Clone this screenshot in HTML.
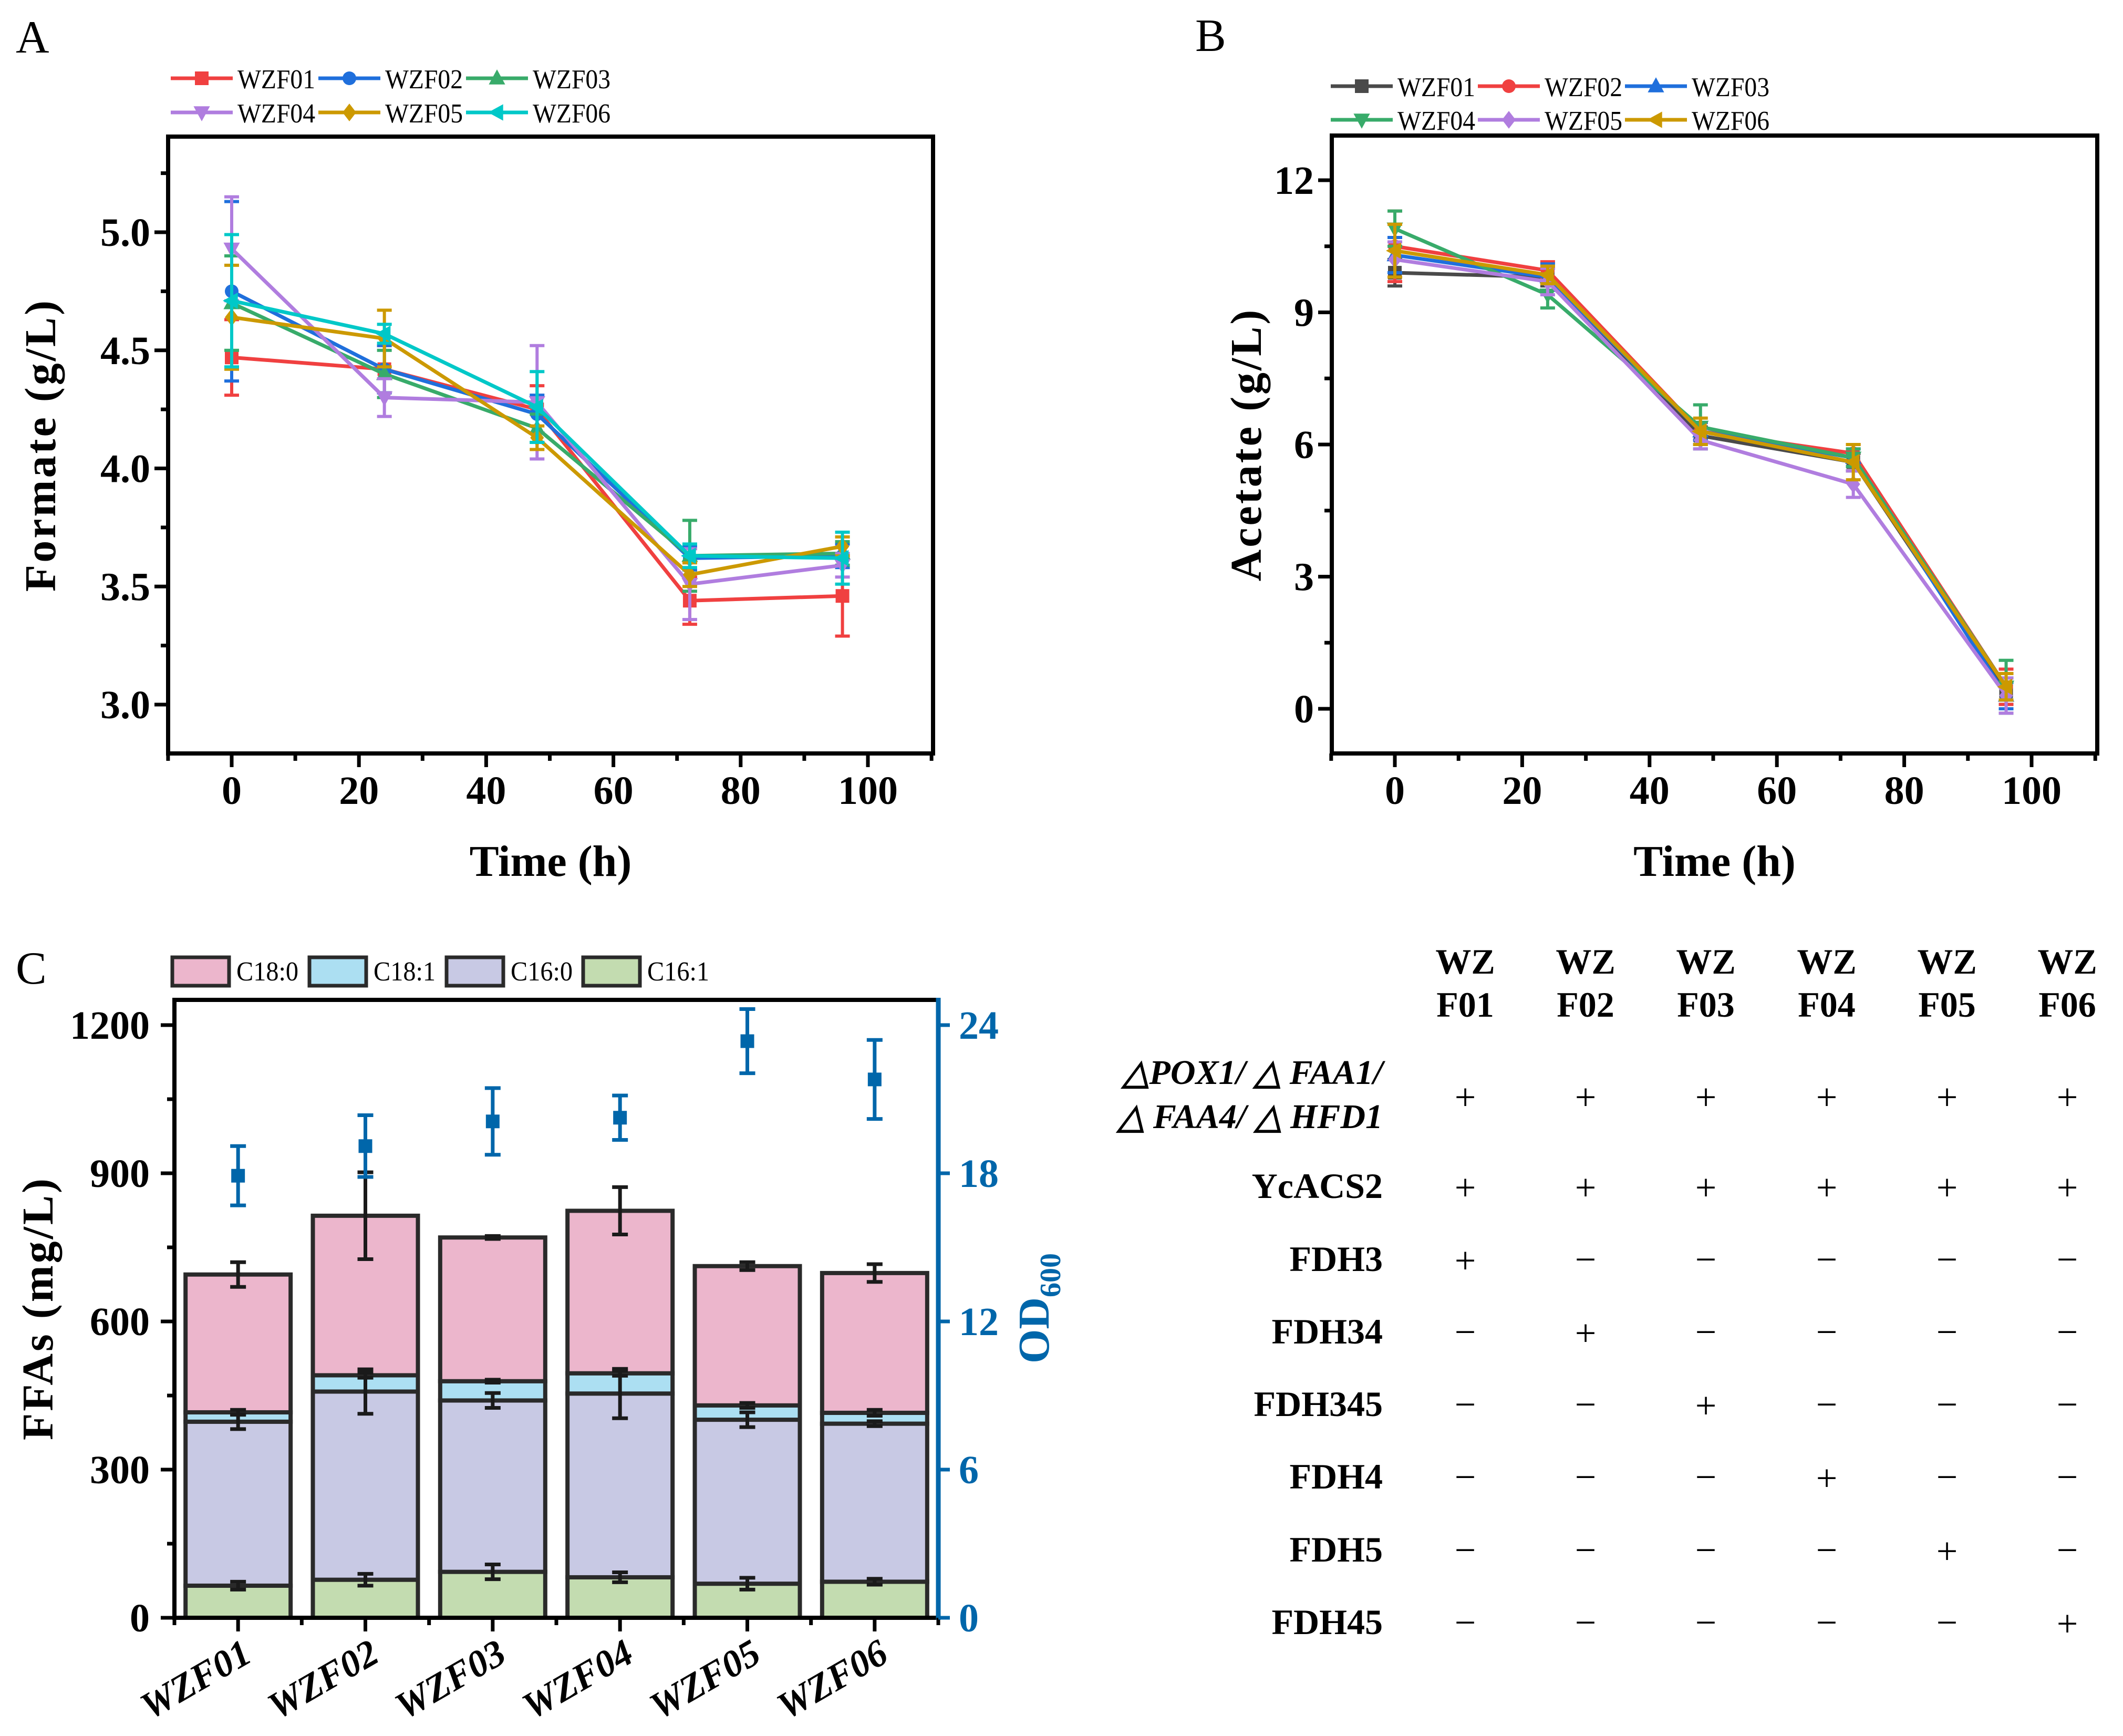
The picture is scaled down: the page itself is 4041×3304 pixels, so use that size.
<!DOCTYPE html>
<html><head><meta charset="utf-8"><style>html,body{margin:0;padding:0;background:#fff}svg{display:block}</style></head>
<body>
<svg id="fig" xmlns="http://www.w3.org/2000/svg" width="4041" height="3304" viewBox="0 0 4041 3304" font-family="Liberation Serif, serif">
<rect width="4041" height="3304" fill="#fff"/>
<g id="pA"></g>
<g id="pB"></g>
<g id="pC"></g>
<g id="pT"></g>
</svg>
<script>
// ---------- data ----------
const times = [0, 24, 48, 72, 96];
const strainNames = ["WZF01","WZF02","WZF03","WZF04","WZF05","WZF06"];
const formateTicks = ["3.0","3.5","4.0","4.5","5.0"];
const formate01 = [4.47, 4.42, 4.25, 3.44, 3.46];
const formate02 = [4.75, 4.42, 4.23, 3.62, 3.63];
const formate03 = [4.70, 4.40, 4.17, 3.63, 3.64];
const formate04 = [4.93, 4.30, 4.28, 3.51, 3.59];
const formate05 = [4.64, 4.55, 4.13, 3.55, 3.67];
const formate06 = [4.71, 4.57, 4.26, 3.63, 3.62];
const formateErr01 = [0.16, 0.10, 0.10, 0.10, 0.17];
const formateErr02 = [0.38, 0.10, 0.08, 0.05, 0.05];
const formateErr03 = [0.20, 0.10, 0.06, 0.15, 0.05];
const formateErr04 = [0.22, 0.08, 0.24, 0.15, 0.05];
const formateErr05 = [0.22, 0.12, 0.05, 0.05, 0.04];
const formateErr06 = [0.28, 0.04, 0.15, 0.05, 0.11];
const acetateTicks = ["0","3","6","9","12"];
const acetate01 = [9.9, 9.8, 6.2, 5.6, 0.4];
const acetate02 = [10.5, 9.95, 6.3, 5.8, 0.5];
const acetate03 = [10.3, 9.8, 6.3, 5.7, 0.3];
const acetate04 = [10.9, 9.4, 6.4, 5.7, 0.5];
const acetate05 = [10.2, 9.7, 6.1, 5.1, 0.3];
const acetate06 = [10.4, 9.85, 6.3, 5.6, 0.5];
const acetateErr01 = [0.3, 0.2, 0.2, 0.2, 0.3];
const acetateErr02 = [0.8, 0.2, 0.2, 0.2, 0.4];
const acetateErr03 = [0.4, 0.3, 0.2, 0.2, 0.3];
const acetateErr04 = [0.4, 0.3, 0.5, 0.2, 0.6];
const acetateErr05 = [0.4, 0.3, 0.2, 0.3, 0.4];
const acetateErr06 = [0.6, 0.2, 0.3, 0.4, 0.3];
const c161 = [65, 77, 93, 82, 69, 73];
const c160 = [332, 381, 347, 372, 332, 320];
const c181 = [19, 33, 39, 41, 29, 22];
const c180 = [279, 323, 291, 329, 282, 283];
const c161Err = [8, 12, 15, 10, 12, 6];
const c160Err = [15, 45, 15, 50, 15, 5];
const c181Err = [5, 5, 3, 5, 5, 6];
const c180Err = [25, 88, 3, 48, 8, 18];
const od600 = [17.9, 19.1, 20.1, 20.25, 23.35, 21.8];
const od600Err = [1.2, 1.25, 1.35, 0.9, 1.3, 1.6];
const ffaTicks = ["0","300","600","900","1200"];
const odTicks = ["0","6","12","18","24"];
const rowLabels = ["YcACS2","FDH3","FDH34","FDH345","FDH4","FDH5","FDH45"];
const rowMarks = [
 "++++++",
 "+-----",
 "-+----",
 "--+---",
 "---+--",
 "----+-",
 "-----+"];

const NS="http://www.w3.org/2000/svg";
function mk(parent, tag, attrs, text){
  const e=document.createElementNS(NS,tag);
  for(const k in attrs) e.setAttribute(k,attrs[k]);
  if(text!==undefined) e.textContent=text;
  parent.appendChild(e); return e;
}
function lin(d0,d1,r0,r1){return v=>r0+(v-d0)*(r1-r0)/(d1-d0);}

function marker(g, shape, x, y, s, col){
  let e;
  if(shape==="sq") e=mk(g,"rect",{x:x-s/2,y:y-s/2,width:s,height:s,fill:col});
  else if(shape==="ci") e=mk(g,"circle",{cx:x,cy:y,r:s/2,fill:col});
  else if(shape==="tu") e=mk(g,"polygon",{points:`${x},${y-s*0.65} ${x-s*0.6},${y+s*0.45} ${x+s*0.6},${y+s*0.45}`,fill:col});
  else if(shape==="td") e=mk(g,"polygon",{points:`${x},${y+s*0.65} ${x-s*0.6},${y-s*0.45} ${x+s*0.6},${y-s*0.45}`,fill:col});
  else if(shape==="di") e=mk(g,"polygon",{points:`${x},${y-s*0.65} ${x+s*0.5},${y} ${x},${y+s*0.65} ${x-s*0.5},${y}`,fill:col});
  else e=mk(g,"polygon",{points:`${x-s*0.65},${y} ${x+s*0.45},${y-s*0.6} ${x+s*0.45},${y+s*0.6}`,fill:col});
  return e;
}

function linePanel(g, cfg){
  const X=lin(0,100,cfg.x0,cfg.x100), Y=lin(cfg.ylo,cfg.yhi,cfg.ylopx,cfg.yhipx);
  const L=cfg.box[0],T=cfg.box[1],R=cfg.box[2],B=cfg.box[3];
  cfg.series.forEach((s,i)=>{
    const sg=mk(g,"g",{});
    
    
    const pts=times.map((t,j)=>X(t)+","+Y(s[j])).join(" ");
    mk(sg,"polyline",{points:pts,fill:"none",stroke:cfg.colors[i],"stroke-width":7});
    times.forEach((t,j)=>{
      const x=X(t),e=cfg.errs[i][j];
      const eb=mk(sg,"path",{d:`M${x},${Y(s[j]-e)}V${Y(s[j]+e)}M${x-14},${Y(s[j]-e)}h28M${x-14},${Y(s[j]+e)}h28`,stroke:cfg.colors[i],"stroke-width":6,fill:"none"});
      
      
      const m=marker(sg,cfg.shapes[i],x,Y(s[j]),26,cfg.colors[i]);
      
      
    });
  });
  const fr=mk(g,"rect",{x:L,y:T,width:R-L,height:B-T,fill:"none",stroke:"#000","stroke-width":8});
  
  
  for(let t=-10;t<=110;t+=10){
    const x=X(t); const major=t%20===0;
    mk(g,"line",{x1:x,y1:B,x2:x,y2:B+(major?26:14),stroke:"#000","stroke-width":7});
    if(major && t>=0 && t<=100){
      const tl=mk(g,"text",{x:x,y:1530,"text-anchor":"middle","font-size":76,"font-weight":"bold"},String(t));
      
      
    }
  }
  cfg.yTicks.forEach((lab,k)=>{
    const v=parseFloat(lab), y=Y(v);
    mk(g,"line",{x1:L,y1:y,x2:L-26,y2:y,stroke:"#000","stroke-width":7});
    const yl=mk(g,"text",{x:L-34,y:y+26,"text-anchor":"end","font-size":76,"font-weight":"bold"},lab);
    
    
  });
  cfg.minor.forEach(v=>{const y=Y(v); if(y>T && y<B) mk(g,"line",{x1:L,y1:y,x2:L-14,y2:y,stroke:"#000","stroke-width":7});});
  const xt=mk(g,"text",{x:(L+R)/2,y:1667,"text-anchor":"middle","font-size":84,"font-weight":"bold"},"Time (h)");
  
  
  const yt=mk(g,"text",{x:0,y:0,transform:`translate(${cfg.ylabX},${(T+B)/2}) rotate(-90)`,"text-anchor":"middle","font-size":84,"font-weight":"bold","letter-spacing":4},cfg.ylab);
  
  
  const pl=mk(g,"text",{x:cfg.letter[0],y:cfg.letter[1],"font-size":88},cfg.letter[2]);
  
  
  const lg=mk(g,"g",{});
  
  
  strainNames.forEach((n,i)=>{
    const row=Math.floor(i/3),col=i%3;
    const lx=cfg.leg[0]+col*cfg.legStep, ly=cfg.leg[1]+row*cfg.legRow;
    const le=mk(lg,"g",{});
    
    
    mk(le,"line",{x1:lx,y1:ly,x2:lx+118,y2:ly,stroke:cfg.colors[i],"stroke-width":7});
    marker(le,cfg.shapes[i],lx+59,ly,26,cfg.colors[i]);
    mk(le,"text",{x:lx+127,y:ly+19,"font-size":52,textLength:148,lengthAdjust:"spacingAndGlyphs"},n);
  });
}

const shapes=["sq","ci","tu","td","di","tl"];
linePanel(document.getElementById("pA"),{
  box:[320,260,1776,1434], x0:441,x100:1652, ylo:3.0,yhi:5.0,ylopx:1341,yhipx:442,
  series:[formate01,formate02,formate03,formate04,formate05,formate06],
  errs:[formateErr01,formateErr02,formateErr03,formateErr04,formateErr05,formateErr06],
  colors:["#f04040","#1f6fdc","#38ab6a","#b07ddf","#cc9900","#00c8c8"], shapes:shapes,
  yTicks:formateTicks, minor:[2.75,3.25,3.75,4.25,4.75,5.25],
  ylab:"Formate (g/L)", ylabX:105, letter:[30,100,"A"], leg:[325,149], legStep:281, legRow:65
});
linePanel(document.getElementById("pB"),{
  box:[2535,258,3992,1434], x0:2655,x100:3867, ylo:0,yhi:12,ylopx:1349,yhipx:343,
  series:[acetate01,acetate02,acetate03,acetate04,acetate05,acetate06],
  errs:[acetateErr01,acetateErr02,acetateErr03,acetateErr04,acetateErr05,acetateErr06],
  colors:["#4a4a4a","#f04040","#1f6fdc","#38ab6a","#b07ddf","#cc9900"], shapes:shapes,
  yTicks:acetateTicks, minor:[-1.5,1.5,4.5,7.5,10.5],
  ylab:"Acetate (g/L)", ylabX:2400, letter:[2275,97,"B"], leg:[2533,164], legStep:280, legRow:64
});

// ---------- Panel C ----------
(function(){
  const g=document.getElementById("pC");
  const L=332,T=1903,R=1786,B=3079;
  const Y=lin(0,1200,3079,1951), Y2=lin(0,24,3079,1951);
  const slot=(R-L)/6, bw=200;
  const cols=["#c3dcb0","#c8c9e4","#acdff2","#ecb6cc"];
  const names=["c16-1","c16-0","c18-1","c18-0"];
  strainNames.forEach((n,i)=>{
    const cx=L+slot*(i+0.5);
    const segs=[c161[i],c160[i],c181[i],c180[i]];
    const errs=[c161Err[i],c160Err[i],c181Err[i],c180Err[i]];
    let base=0;
    const bg=mk(g,"g",{});
    
    
    segs.forEach((v,k)=>{
      const r=mk(bg,"rect",{x:cx-bw/2,y:Y(base+v),width:bw,height:Y(base)-Y(base+v),fill:cols[k],stroke:"#2a2a2a","stroke-width":8});
      
      
      base+=v;
    });
    base=0;
    segs.forEach((v,k)=>{
      base+=v; const e=errs[k];
      const eb=mk(bg,"path",{d:`M${cx},${Y(base-e)}V${Y(base+e)}M${cx-15},${Y(base-e)}h30M${cx-15},${Y(base+e)}h30`,stroke:"#1a1a1a","stroke-width":7,fill:"none"});
      
      
    });
    const og=mk(g,"g",{});
    
    
    const y=Y2(od600[i]),e=od600Err[i];
    mk(og,"path",{d:`M${cx},${Y2(od600[i]-e)}V${Y2(od600[i]+e)}M${cx-15},${Y2(od600[i]-e)}h30M${cx-15},${Y2(od600[i]+e)}h30`,stroke:"#0066aa","stroke-width":7,fill:"none"});
    mk(og,"rect",{x:cx-13,y:y-13,width:26,height:26,fill:"#0066aa"});
    const xl=mk(g,"text",{x:0,y:0,transform:`translate(${cx+30},${3160}) rotate(-30)`,"text-anchor":"end","font-size":72,"font-weight":"bold","font-style":"italic"},n);
    
    
  });
  mk(g,"path",{d:`M${L},${B}V${T}H${R}`,fill:"none",stroke:"#000","stroke-width":8});
  mk(g,"line",{x1:L-4,y1:B,x2:R,y2:B,stroke:"#000","stroke-width":8});
  const ra=mk(g,"line",{x1:R,y1:T-4,x2:R,y2:B+4,stroke:"#0066aa","stroke-width":9});
  
  
  for(let i=0;i<=12;i++){
    const x=L+slot*i/2; const major=i%2===1;
    mk(g,"line",{x1:x,y1:B,x2:x,y2:B+(major?26:14),stroke:"#000","stroke-width":7});
  }
  ffaTicks.forEach(l=>{
    const y=Y(parseFloat(l));
    mk(g,"line",{x1:L,y1:y,x2:L-26,y2:y,stroke:"#000","stroke-width":7});
    const t=mk(g,"text",{x:285,y:y+26,"text-anchor":"end","font-size":76,"font-weight":"bold"},l);
    
    
  });
  [150,450,750,1050].forEach(v=>{const y=Y(v);mk(g,"line",{x1:L,y1:y,x2:L-14,y2:y,stroke:"#000","stroke-width":7});});
  odTicks.forEach(l=>{
    const y=Y2(parseFloat(l));
    mk(g,"line",{x1:R,y1:y,x2:R+22,y2:y,stroke:"#0066aa","stroke-width":7});
    const t=mk(g,"text",{x:1825,y:y+26,"font-size":76,"font-weight":"bold",fill:"#0066aa"},l);
    
    
  });
  const yt=mk(g,"text",{x:0,y:0,transform:`translate(100,2490) rotate(-90)`,"text-anchor":"middle","font-size":84,"font-weight":"bold","letter-spacing":4},"FFAs (mg/L)");
  
  
  const od=mk(g,"text",{x:0,y:0,transform:`translate(1996,2490) rotate(-90)`,"text-anchor":"middle","font-size":84,"font-weight":"bold",fill:"#0066aa"});
  
  
  mk(od,"tspan",{},"OD");
  mk(od,"tspan",{"font-size":56,dy:22},"600");
  const pl=mk(g,"text",{x:30,y:1872,"font-size":88},"C");
  
  
  const legLab=["C18:0","C18:1","C16:0","C16:1"], legCol=[cols[3],cols[2],cols[1],cols[0]], legX=[328,589,850,1110];
  legLab.forEach((l,k)=>{
    const le=mk(g,"g",{});
    
    
    mk(le,"rect",{x:legX[k],y:1822,width:108,height:54,fill:legCol[k],stroke:"#2a2a2a","stroke-width":7});
    mk(le,"text",{x:legX[k]+122,y:1866,"font-size":52,textLength:118,lengthAdjust:"spacingAndGlyphs"},l);
  });
})();

// ---------- table ----------
(function(){
  const g=document.getElementById("pT");
  const cx=[2789,3018,3247,3477,3706,3935];
  strainNames.forEach((n,i)=>{
    const h=mk(g,"text",{x:cx[i],y:1853,"text-anchor":"middle","font-size":68,"font-weight":"bold"},"WZ");
    
    
    mk(g,"text",{x:cx[i],y:1935,"text-anchor":"middle","font-size":68,"font-weight":"bold"},"F0"+(i+1));
    mk(g,"text",{x:cx[i],y:2112,"text-anchor":"middle","font-size":72},"+");
  });
  const r1=mk(g,"text",{x:2632,y:2063,"text-anchor":"end","font-size":66,"font-weight":"bold","font-style":"italic"},"△POX1/ △ FAA1/");
  
  
  mk(g,"text",{x:2632,y:2147,"text-anchor":"end","font-size":66,"font-weight":"bold","font-style":"italic"},"△ FAA4/ △ HFD1");
  const ys=[2280,2419,2557,2695,2833,2972,3110];
  rowLabels.forEach((l,r)=>{
    const t=mk(g,"text",{x:2632,y:ys[r],"text-anchor":"end","font-size":68,"font-weight":"bold"},l);
    
    
    for(let i=0;i<6;i++){
      const c=rowMarks[r][i];
      const m=mk(g,"text",{x:cx[i],y:ys[r]+(c==="+"?4:2),"text-anchor":"middle","font-size":72},c==="+"?"+":"−");
      
      
    }
  });
})();
</script>
</body></html>
